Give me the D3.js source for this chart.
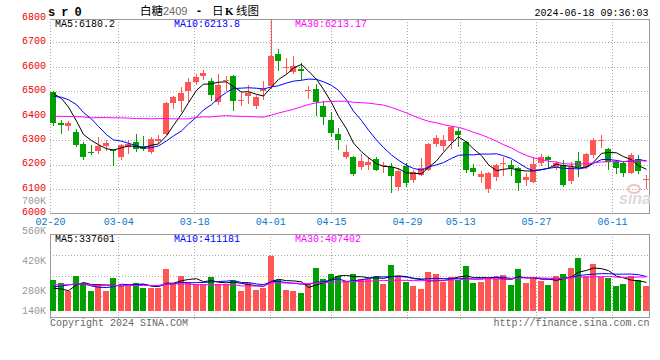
<!DOCTYPE html>
<html><head><meta charset="utf-8">
<script src="https://cdn.jsdelivr.net/npm/d3@7"></script>
<style>
body{margin:0;background:#fff}
svg{display:block}
</style>
</head><body>
<svg id="c" width="660" height="360"></svg>
<script>
// ---------------- DATA ----------------
const dates = ["02-20","02-21","02-22","02-23","02-26","02-27","02-28","02-29",
"03-01","03-04","03-05","03-06","03-07","03-08","03-11","03-12","03-13","03-14","03-15",
"03-18","03-19","03-20","03-21","03-22","03-25","03-26","03-27","03-28","03-29",
"04-01","04-02","04-03","04-08","04-09","04-10","04-11","04-12","04-15","04-16","04-17","04-18","04-19",
"04-22","04-23","04-24","04-25","04-26","04-29","04-30",
"05-06","05-07","05-08","05-09","05-10","05-13","05-14","05-15","05-16","05-17",
"05-20","05-21","05-22","05-23","05-24","05-27","05-28","05-29","05-30","05-31",
"06-03","06-04","06-05","06-06","06-07","06-11","06-12","06-13","06-14","06-17","06-18"];

const open  = [6498,6370,6356,6335,6286,6252,6257,6277,6260,6229,6271,6294,6277,6253,6297,6327,6450,6458,6502,6539,
               6561,6540,6456,6541,6561,6463,6480,6438,6502,6520,6654,6593,6577,6592,6501,6510,6440,6383,6326,6230,
               6232,6189,6199,6223,6193,6192,6110,6195,6137,6158,6178,6285,6277,6298,6339,6294,6185,6151,6100,6151,
               6203,6199,6185,6137,6130,6208,6233,6192,6199,6133,6215,6192,6240,6295,6263,6212,6205,6167,6222,6135];
const high  = [6500,6383,6379,6346,6294,6281,6313,6300,6262,6285,6301,6326,6318,6311,6322,6454,6481,6516,6554,6572,
               6588,6554,6570,6561,6568,6495,6527,6486,6540,6795,6674,6635,6645,6615,6520,6531,6458,6413,6349,6281,
               6234,6244,6232,6233,6212,6206,6185,6206,6178,6226,6288,6322,6322,6356,6349,6298,6201,6174,6171,6201,
               6233,6219,6192,6167,6233,6244,6236,6216,6219,6212,6253,6249,6308,6322,6267,6219,6216,6247,6240,6158];
const low   = [6360,6331,6342,6277,6223,6245,6248,6260,6199,6222,6249,6257,6258,6249,6294,6326,6431,6417,6458,6531,
               6551,6465,6448,6506,6424,6445,6450,6431,6468,6513,6588,6574,6574,6550,6472,6404,6367,6315,6263,6226,
               6158,6181,6181,6176,6171,6089,6096,6113,6130,6158,6176,6274,6260,6267,6274,6171,6158,6130,6089,6137,
               6158,6158,6096,6117,6130,6199,6185,6181,6113,6124,6154,6185,6233,6271,6181,6167,6154,6165,6167,6103];
const close = [6370,6360,6371,6281,6233,6246,6275,6289,6254,6278,6284,6263,6265,6305,6305,6450,6477,6494,6539,6559,
               6573,6486,6527,6546,6458,6466,6492,6475,6509,6642,6622,6597,6604,6582,6505,6454,6394,6331,6301,6252,
               6162,6215,6211,6178,6197,6154,6175,6126,6171,6185,6285,6308,6301,6353,6319,6178,6171,6162,6165,6199,
               6207,6188,6126,6148,6203,6229,6219,6208,6117,6192,6192,6244,6301,6299,6212,6185,6165,6240,6175,6139];
const volume = [366000,334000,240000,417000,327000,240000,315000,240000,393000,295000,
                295000,334000,275000,268000,268000,496000,334000,417000,346000,315000,
                315000,405000,315000,315000,354000,240000,334000,251000,268000,653000,
                366000,251000,240000,212000,322000,511000,381000,440000,417000,350000,
                437000,378000,378000,413000,319000,543000,417000,339000,295000,260000,
                460000,437000,339000,401000,366000,531000,330000,346000,389000,401000,
                425000,307000,496000,330000,401000,354000,307000,413000,437000,507000,
                625000,413000,555000,401000,389000,295000,319000,413000,366000,295000];

// moving-average values for days whose window starts before 02-20
const ma5Lead  = [6490,6470,6435,6378];
const ma10Lead = [6479,6475,6465,6445,6413,6386,6356,6322,6301];
const ma30Lead = [6397,6397,6397,6396,6395,6391,6392,6392,6391,6391,6390,6388,6388,6387,6388,
                  6388,6387,6387,6387,6393,6395,6395,6398,6400,6398,6397,6397,6395,6394];
const vma5Lead  = [268000,260000,240000,307000];
const vma10Lead = [287000,295000,307000,319000,319000,295000,280000,277000,287000];
const vma30Lead = [310000,310000,310000,320000,320000,302000,300000,300000,300000,300000,
                   300000,300000,300000,300000,302000,318000,319000,319000,318000,310000,
                   310000,310000,310000,310000,310000,296000,295000,295000,295000];

const yTicks = [6000,6100,6200,6300,6400,6500,6600,6700,6800];
const xTickLabels = ["02-20","03-04","03-18","04-01","04-15","04-29","05-13","05-27","06-11"];
const volTickLabels = ["140K","280K","420K","560K","700K"];
const volTickValues = [140000,280000,420000,560000,700000];
const priceMaLabels = ["MA5:6180.2","MA10:6213.8","MA30:6213.17"];
const volMaLabels = ["MA5:337601","MA10:411181","MA30:407402"];

// ---------------- DRAW ----------------
const MONO = '"Liberation Mono","DejaVu Sans Mono",monospace';
const CJK = '"Noto Sans CJK SC","Noto Sans",sans-serif';
const RED = "#ff5555", GREEN = "#00a000";
const GRID = "#aaaaaa", BORDER = "#999999";
const maColors = ["#000000","#0000ff","#ff00ff"];

const svg = d3.select("#c");
const P = {l:50, r:649, t:19, b:213};          // price panel
const V = {l:50, r:649, t:234, b:317, base:311}; // volume panel

const x = d3.scaleBand().domain(dates).range([50, 648.5]).paddingInner(0.2).paddingOuter(0);
const gridX = d3.scaleLinear().domain([0, dates.length - 1]).range([50, 650]);
const y = d3.scaleLinear().domain([6000, 6800]).range([213.5, 17.8]);
const vy = d3.scaleLinear().domain([0, 908600]).range([V.base, V.t]);
const vLabelY = d3.scaleLinear().domain([280000, 700000]).range([290, 200]);

const cx = d => Math.round(x(d)) + 3.5;
const px = v => Math.round(v) + 0.5;

function ma(vals, n, lead) {
  return vals.map((v, i) => i < n - 1 ? lead[i] : d3.mean(vals.slice(i - n + 1, i + 1)));
}

svg.append("rect").attr("width", 660).attr("height", 360).attr("fill", "#fff");

const defs = svg.append("defs");
defs.append("clipPath").attr("id", "cp").append("rect")
  .attr("x", P.l).attr("y", P.t).attr("width", P.r - P.l).attr("height", P.b - P.t + 1);
defs.append("clipPath").attr("id", "cv").append("rect")
  .attr("x", V.l).attr("y", V.t).attr("width", V.r - V.l).attr("height", V.b - V.t);

const tickIdx = xTickLabels.map(t => dates.indexOf(t));

// ---- grid: price panel
const gg = svg.append("g").attr("stroke", GRID).attr("stroke-dasharray", "1,2").attr("shape-rendering", "crispEdges");
yTicks.slice(1, -1).forEach(v => {
  gg.append("line").attr("x1", P.l).attr("x2", P.r).attr("y1", px(y(v))).attr("y2", px(y(v)));
});
tickIdx.forEach(i => {
  const gx = px(gridX(i));
  gg.append("line").attr("x1", gx).attr("x2", gx).attr("y1", P.t).attr("y2", P.b);
  gg.append("line").attr("x1", gx).attr("x2", gx).attr("y1", V.t).attr("y2", V.b + 3);
});
[1, 2, 3].forEach(k => {
  const gyv = px(V.t + (V.b - V.t) * k / 4);
  gg.append("line").attr("x1", V.l).attr("x2", V.r).attr("y1", gyv).attr("y2", gyv);
});

// ---- borders
const bg = svg.append("g").attr("stroke", BORDER).attr("fill", "none").attr("shape-rendering", "crispEdges");
bg.append("line").attr("x1", P.l).attr("x2", P.r + 1).attr("y1", P.t + 0.5).attr("y2", P.t + 0.5);
bg.append("line").attr("x1", P.r + 0.5).attr("x2", P.r + 0.5).attr("y1", P.t).attr("y2", P.b + 1);
bg.append("line").attr("x1", P.l).attr("x2", P.r + 1).attr("y1", P.b + 0.5).attr("y2", P.b + 0.5);
bg.append("rect").attr("x", V.l + 0.5).attr("y", V.t + 0.5).attr("width", V.r - V.l).attr("height", V.b - V.t);

// ---- watermark
const wm = svg.append("g");
wm.append("ellipse").attr("cx", 634).attr("cy", 189).attr("rx", 6).attr("ry", 4)
  .attr("fill", "none").attr("stroke", "#f2c4c4").attr("stroke-width", 2);
wm.append("text").attr("x", 619).attr("y", 204).text("sina")
  .attr("font-family", '"Liberation Sans",sans-serif').attr("font-style", "italic").attr("font-weight", "bold")
  .attr("font-size", 16).attr("fill", "#dadada");

// ---- candles
const cg = svg.append("g").attr("clip-path", "url(#cp)").attr("shape-rendering", "crispEdges");
dates.forEach((d, i) => {
  const up = close[i] >= open[i];
  const col = up ? RED : GREEN;
  const c = cx(d);
  cg.append("line").attr("x1", c).attr("x2", c)
    .attr("y1", Math.round(y(high[i]))).attr("y2", Math.round(y(low[i])) + 1)
    .attr("stroke", col);
  const top = Math.round(y(Math.max(open[i], close[i])));
  const bot = Math.round(y(Math.min(open[i], close[i])));
  cg.append("rect").attr("x", Math.round(x(d))).attr("y", top)
    .attr("width", x.bandwidth()).attr("height", Math.max(1, bot - top))
    .attr("fill", col);
});

// ---- price MA lines
const pma = [ma(close, 5, ma5Lead), ma(close, 10, ma10Lead), ma(close, 30, ma30Lead)];
const lg = svg.append("g").attr("clip-path", "url(#cp)");
pma.forEach((s, k) => {
  lg.append("path").datum(s)
    .attr("d", d3.line().x((v, i) => cx(dates[i])).y(v => y(v)))
    .attr("fill", "none").attr("stroke", maColors[k]).attr("stroke-width", 1);
});

// ---- volume bars
const vg = svg.append("g").attr("clip-path", "url(#cv)").attr("shape-rendering", "crispEdges");
dates.forEach((d, i) => {
  const up = close[i] >= open[i];
  const t = Math.round(vy(volume[i]));
  vg.append("rect").attr("x", Math.round(x(d))).attr("y", t)
    .attr("width", x.bandwidth()).attr("height", V.base - t)
    .attr("fill", up ? RED : GREEN);
});
const vma = [ma(volume, 5, vma5Lead), ma(volume, 10, vma10Lead), ma(volume, 30, vma30Lead)];
const vlg = svg.append("g").attr("clip-path", "url(#cv)");
vma.forEach((s, k) => {
  vlg.append("path").datum(s)
    .attr("d", d3.line().x((v, i) => cx(dates[i])).y(v => vy(v)))
    .attr("fill", "none").attr("stroke", maColors[k]).attr("stroke-width", 1);
});

// ---- axes / labels
const yAxis = svg.append("g").attr("transform", `translate(${P.l},-1.8)`)
  .call(d3.axisLeft(y).tickValues(yTicks).tickSize(0).tickPadding(4).tickFormat(d3.format("d")));
yAxis.select(".domain").remove();
yAxis.selectAll("text").attr("fill", "#ee0000").attr("font-family", MONO).attr("font-size", 10);

const xAxis = svg.append("g").attr("transform", `translate(0,${P.b})`)
  .call(d3.axisBottom(gridX).tickValues(tickIdx).tickSize(0).tickPadding(5).tickFormat(i => dates[i]));
xAxis.select(".domain").remove();
xAxis.selectAll("text").attr("fill", "#0a78c8").attr("font-family", MONO).attr("font-size", 10);

const vlab = svg.append("g").attr("font-family", MONO).attr("font-size", 10).attr("fill", "#999")
  .attr("text-anchor", "end");
volTickValues.forEach((v, i) => {
  vlab.append("text").attr("x", 46).attr("y", Math.min(vLabelY(v), 310)).attr("dy", "0.4em").text(volTickLabels[i]);
});

// ---- MA legends
const maX = [55, 174, 295];
priceMaLabels.forEach((t, k) => {
  svg.append("text").attr("x", maX[k]).attr("y", 27).text(t)
    .attr("font-family", MONO).attr("font-size", 10).attr("fill", maColors[k]);
});
volMaLabels.forEach((t, k) => {
  svg.append("text").attr("x", maX[k]).attr("y", 242).text(t)
    .attr("font-family", MONO).attr("font-size", 10).attr("fill", maColors[k]);
});

// ---- header
svg.append("text").attr("x", 48).attr("y", 16).text("s r 0")
  .attr("font-family", MONO).attr("font-size", 12).attr("letter-spacing", -0.6)
  .attr("font-weight", "bold").attr("fill", "#000").attr("xml:space", "preserve");
svg.append("text").attr("x", 140).attr("y", 14.5).text("白糖")
  .attr("font-family", CJK).attr("font-size", 11.5).attr("fill", "#000");
svg.append("text").attr("x", 163).attr("y", 14.5).text("2409")
  .attr("font-family", '"Liberation Sans",sans-serif').attr("font-size", 11).attr("fill", "#666");
svg.append("text").attr("x", 197).attr("y", 14.5).text("-")
  .attr("font-family", '"Liberation Sans",sans-serif').attr("font-size", 12).attr("font-weight", "bold").attr("fill", "#000");
svg.append("text").attr("x", 212).attr("y", 14.5).text("日")
  .attr("font-family", CJK).attr("font-size", 11.5).attr("fill", "#000");
svg.append("text").attr("x", 225).attr("y", 14.5).text("K")
  .attr("font-family", '"Liberation Serif",serif').attr("font-size", 11).attr("font-weight", "bold").attr("fill", "#000");
svg.append("text").attr("x", 236).attr("y", 14.5).text("线图")
  .attr("font-family", CJK).attr("font-size", 11.5).attr("fill", "#000");
svg.append("text").attr("x", 648.5).attr("y", 15.5).attr("text-anchor", "end").text("2024-06-18 09:36:03")
  .attr("font-family", MONO).attr("font-size", 10).attr("fill", "#000");

// ---- footer
svg.append("text").attr("x", 50).attr("y", 325.5).text("Copyright 2024 SINA.COM")
  .attr("font-family", MONO).attr("font-size", 10).attr("fill", "#666");
svg.append("text").attr("x", 649.5).attr("y", 325.5).attr("text-anchor", "end").text("http://finance.sina.com.cn")
  .attr("font-family", MONO).attr("font-size", 10).attr("fill", "#666");
</script>
</body></html>
